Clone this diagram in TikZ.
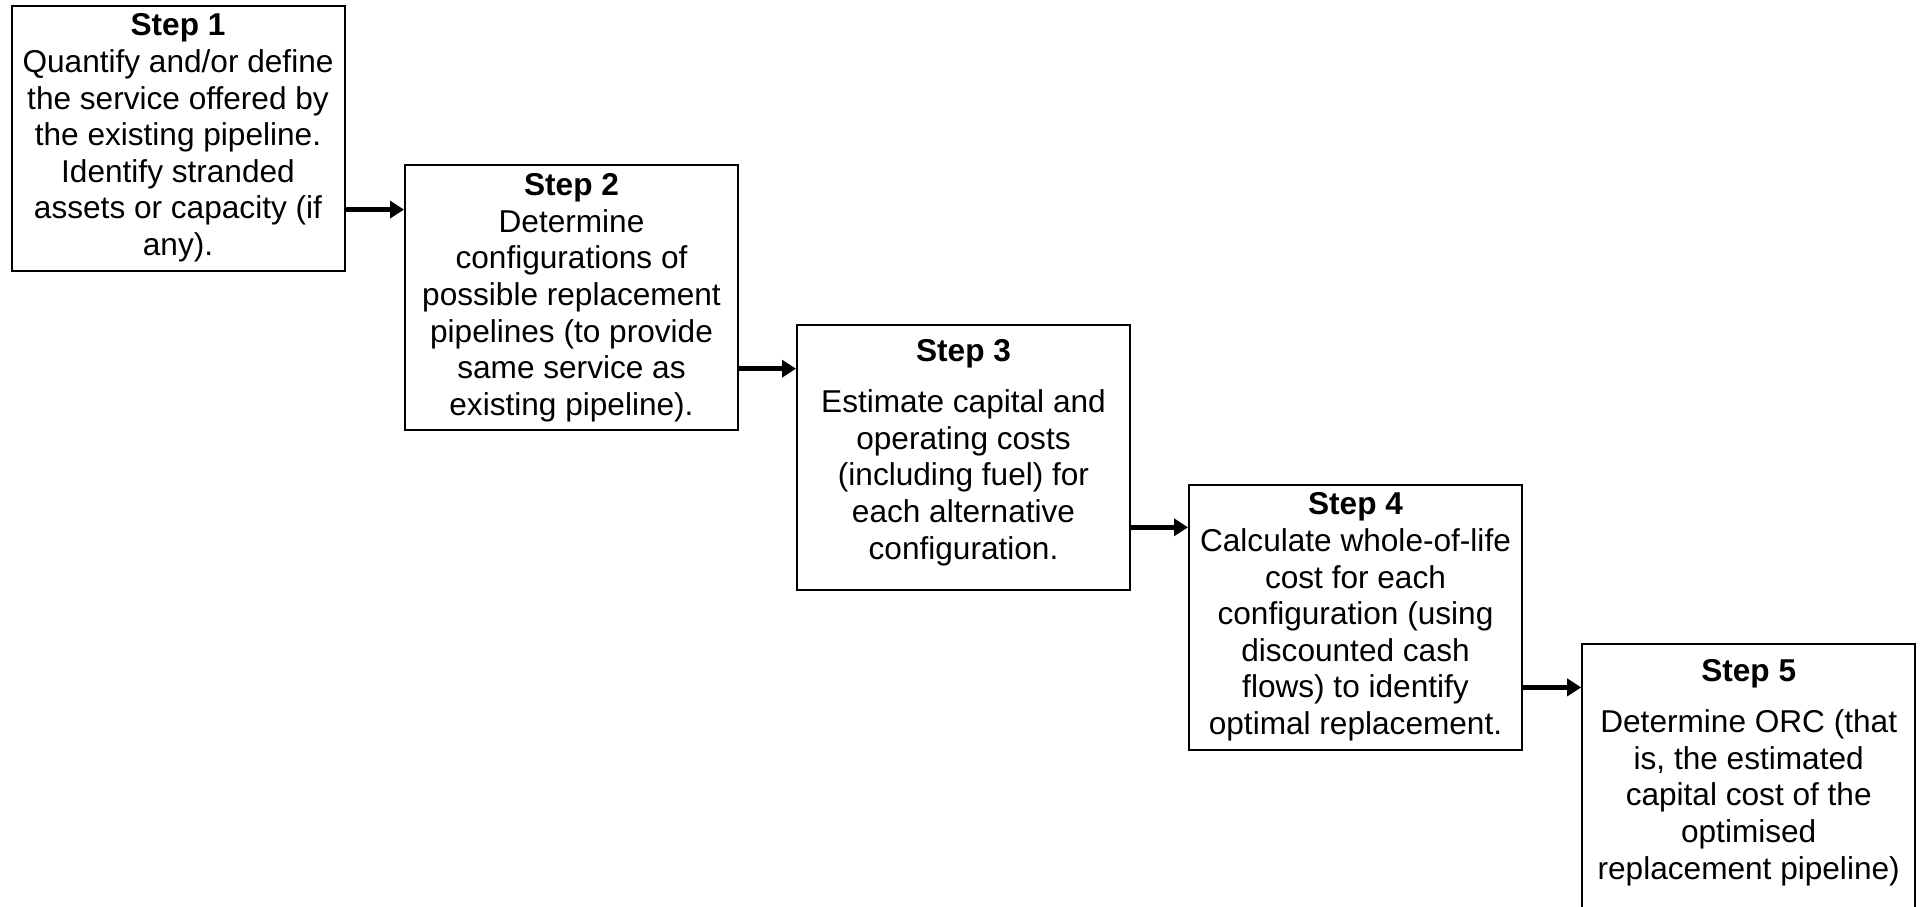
\documentclass[tikz,border=0pt]{standalone}
\usepackage{fontspec}
\setmainfont{Liberation Sans}
\usetikzlibrary{arrows.meta}
\begin{document}
\begin{tikzpicture}[x=0.5pt,y=-0.5pt,
  stepbox/.style={draw=black,line width=1pt,align=center,inner sep=0pt,
    minimum width=166.5pt,minimum height=132.5pt,
    font=\fontsize{15.8pt}{18.3pt}\selectfont},
  arr/.style={line width=2.5pt,-{Triangle[length=7pt,width=8.5pt]}}]
\useasboundingbox (0,0) rectangle (1923,906);
\clip (0,0) rectangle (1923,906);
\node[stepbox] (b1) at (178,138) {\textbf{Step 1}\\Quantify and/or define\\the service offered by\\the existing pipeline.\\Identify stranded\\assets or capacity (if\\any).};
\node[stepbox] (b2) at (571.5,297.7) {\textbf{Step 2}\\Determine\\configurations of\\possible replacement\\pipelines (to provide\\same service as\\existing pipeline).};
\node[stepbox,text depth=8.3pt] (b3) at (963.5,457.3) {\textbf{Step 3}\\[7.5pt]Estimate capital and\\operating costs\\(including fuel) for\\each alternative\\configuration.};
\node[stepbox] (b4) at (1355.5,617) {\textbf{Step 4}\\Calculate whole-of-life\\cost for each\\configuration (using\\discounted cash\\flows) to identify\\optimal replacement.};
\node[stepbox,text depth=7.5pt] (b5) at (1748.7,776.5) {\textbf{Step 5}\\[7.5pt]Determine ORC (that\\is, the estimated\\capital cost of the\\optimised\\replacement pipeline)};
\coordinate (a1) at ([yshift=-35.8pt]b1.east);
\coordinate (a2) at ([yshift=-35.5pt]b2.east);
\coordinate (a3) at ([yshift=-35pt]b3.east);
\coordinate (a4) at ([yshift=-35.2pt]b4.east);
\draw[arr] (a1) -- (a1 -| b2.west);
\draw[arr] (a2) -- (a2 -| b3.west);
\draw[arr] (a3) -- (a3 -| b4.west);
\draw[arr] (a4) -- (a4 -| b5.west);
\end{tikzpicture}
\end{document}
